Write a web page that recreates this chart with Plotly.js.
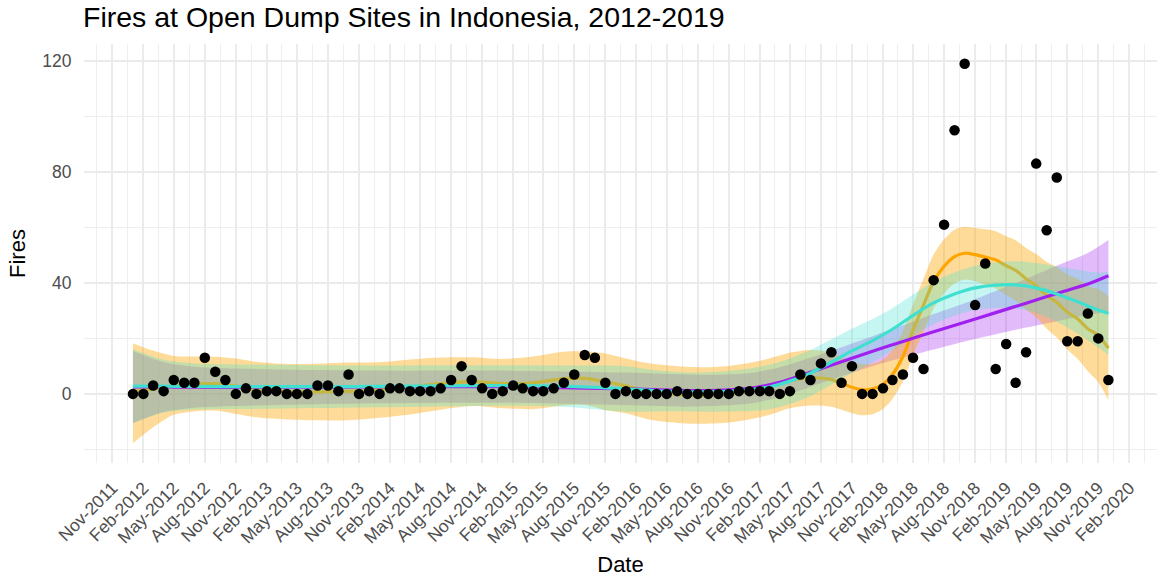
<!DOCTYPE html>
<html><head><meta charset="utf-8">
<script src="https://cdn.plot.ly/plotly-3.0.1.min.js"></script>
<style>html,body{margin:0;padding:0;background:#fff}#chart{width:1159px;height:579px}</style>
</head><body><div id="chart"></div>
<script>
// ---- data ----
const years = [2012, 2013, 2014, 2015, 2016, 2017, 2018, 2019];
const fires2012 = [0, 0, 3, 1, 5, 4, 4, 13, 8, 5, 0, 2];
const fires2013 = [0, 1, 1, 0, 0, 0, 3, 3, 1, 7, 0, 1];
const fires2014 = [0, 2, 2, 1, 1, 1, 2, 5, 10, 5, 2, 0];
const fires2015 = [1, 3, 2, 1, 1, 2, 4, 7, 14, 13, 4, 0];
const fires2016 = [1, 0, 0, 0, 0, 1, 0, 0, 0, 0, 0, 1];
const fires2017 = [1, 1, 1, 0, 1, 7, 5, 11, 15, 4, 10, 0];
const fires2018 = [0, 2, 5, 7, 13, 9, 41, 61, 95, 119, 32, 47];
const fires2019 = [9, 18, 4, 15, 83, 59, 78, 19, 19, 29, 20, 5];
const firesByYear = [fires2012, fires2013, fires2014, fires2015, fires2016, fires2017, fires2018, fires2019];

// smoother 1 (orange, local fit)
const orangeDates = ["2012-01","2012-03","2012-05","2012-07","2012-09","2012-11","2013-01","2013-04","2013-07","2013-10",
  "2014-01","2014-04","2014-07","2014-10","2015-01","2015-04","2015-07","2015-09","2015-11","2016-01","2016-03","2016-05",
  "2016-08","2016-11","2017-01","2017-03","2017-05","2017-07","2017-09","2017-10","2017-11","2017-12","2018-01","2018-02",
  "2018-03","2018-04","2018-05","2018-06","2018-07","2018-08","2018-09","2018-10","2018-11","2018-12","2019-01","2019-02",
  "2019-03","2019-04","2019-05","2019-06","2019-07","2019-08","2019-09","2019-10","2019-11","2019-12"];
const orangeFit = [0.8,1.8,3.0,3.6,3.7,2.8,1.5,0.8,0.7,0.9,1.4,2.5,3.7,4.4,3.7,4.0,5.5,5.6,4.4,2.9,1.0,0.1,
  -0.6,-0.1,1.0,2.6,4.8,5.8,5.2,3.8,2.4,1.5,1.8,3.5,7.0,13.5,23,32,40.5,46,49.5,50.7,50.2,49.3,48.3,46.2,
  44.5,41.5,39,35.5,33,29.5,27,23.5,21,16.5];
const orangeLow = [-17.8,-12,-7.5,-6.3,-6,-7.2,-8.4,-9.2,-9.5,-9.5,-8.6,-7.4,-5.7,-4.4,-5.2,-5.5,-4.2,-4.0,-5.8,-7,-9,-10.1,
  -10.8,-10.3,-9.2,-7.6,-5.2,-4.2,-4.6,-5.7,-7.0,-7.7,-7.3,-5.4,-1.8,4.5,13.8,22.5,30.8,36.3,39.8,41.2,40.6,39.3,38,35.6,
  33.6,30.4,27.6,23.5,20.3,16,12.6,8.2,4.2,-2.2];
const orangeHigh = [18.3,15.6,13.7,13.5,13.4,12.8,11.6,10.8,10.9,11.3,11.4,12.4,13.1,13.2,12.6,13.5,15.2,15.3,14.6,12.8,11.2,10.3,
  9.6,10.1,11.2,12.8,14.8,15.8,15.0,13.3,11.8,10.7,10.9,12.4,15.8,22.5,32.2,41.5,50.2,55.7,59.2,60.2,59.8,59.3,58.6,56.8,
  55.4,52.6,50.4,47.5,45.7,43,41.4,38.8,37.8,35.2];

// smoother 2 (turquoise)
const cyanDates = ["2012-01","2012-04","2012-07","2013-01","2013-07","2014-01","2014-07","2015-01","2015-07","2016-01","2016-04",
  "2016-07","2016-10","2017-01","2017-03","2017-05","2017-07","2017-09","2017-11","2018-01","2018-03","2018-05","2018-07",
  "2018-09","2018-11","2019-01","2019-03","2019-05","2019-07","2019-09","2019-11","2019-12"];
const cyanFit = [2.8,2.8,2.7,2.6,2.6,2.7,2.9,3.0,2.8,1.8,1.1,0.7,0.8,1.5,2.5,4.6,7.5,11.5,15.5,19.2,23.3,28.3,32.8,36.0,38.2,
  39.2,39.3,38.2,36.0,33.2,30.2,29.0];
const cyanLow = [-10.5,-6.7,-5.6,-5.4,-5.1,-4.8,-4.5,-4.3,-4.6,-6.4,-6.3,-6.3,-6.4,-6.2,-5.5,-3.6,-0.8,3.3,7.5,11.4,15.7,20.8,
  25.2,28.2,30.2,31.0,30.8,29.2,26.0,21.7,16.7,14.0];
const cyanHigh = [16.1,12.3,11.0,10.6,10.3,10.2,10.3,10.3,10.2,10.0,8.5,7.7,8.0,9.2,10.5,12.8,15.8,19.7,23.5,27.0,30.9,35.8,
  40.4,43.8,46.2,47.4,47.8,47.2,46.0,44.7,43.7,44.0];

// smoother 3 (purple)
const purpleDates = ["2012-01","2012-04","2012-07","2013-01","2014-01","2015-01","2016-01","2016-07","2016-10","2017-01",
  "2017-04","2017-07","2017-10","2018-01","2018-04","2018-07","2018-10","2019-01","2019-04","2019-07","2019-10","2019-12"];
const purpleFit = [2.5,2.5,2.4,2.4,2.5,2.6,1.8,1.2,1.3,2.0,4.2,7.8,11.6,15.4,18.9,22.4,25.8,29.3,32.7,36.2,39.6,42.6];
const purpleLow = [-10.5,-6.5,-5.0,-4.2,-3.4,-3.2,-4.1,-4.6,-4.3,-3.5,-1.2,2.6,6.4,10.0,13.1,16.0,18.9,21.5,23.9,26.2,28.4,29.6];
const purpleHigh = [15.5,11.5,9.8,9.0,8.4,8.4,7.7,7.0,6.9,7.5,9.6,13.0,16.8,20.8,24.7,28.8,32.7,37.1,41.5,46.2,50.8,55.5];

const titleText = "Fires at Open Dump Sites in Indonesia, 2012-2019";
const xTitle = "Date";
const yTitle = "Fires";

// ---- build table ----
const dates = [], fires = [];
years.forEach((y, i) => {
  firesByYear[i].forEach((v, m) => {
    dates.push(y + "-" + String(m + 1).padStart(2, "0") + "-01");
    fires.push(v);
  });
});

function band(x, lo, hi, fillcolor) {
  return [
    {x: x, y: lo, type: "scatter", mode: "lines", line: {width: 0, shape: "spline", smoothing: 0.8}, hoverinfo: "skip", showlegend: false},
    {x: x, y: hi, type: "scatter", mode: "lines", line: {width: 0, shape: "spline", smoothing: 0.8}, fill: "tonexty", fillcolor: fillcolor, hoverinfo: "skip", showlegend: false}
  ];
}
function fitLine(x, y, color) {
  return {x: x, y: y, type: "scatter", mode: "lines", line: {color: color, width: 3.2, shape: "spline", smoothing: 0.8}, showlegend: false};
}

const traces = [].concat(
  band(purpleDates, purpleLow, purpleHigh, "rgba(160,32,240,0.3)"),
  band(orangeDates, orangeLow, orangeHigh, "rgba(255,165,0,0.4)"),
  [fitLine(orangeDates, orangeFit, "#FFA500")],
  band(cyanDates, cyanLow, cyanHigh, "rgba(64,224,208,0.3)"),
  [fitLine(purpleDates, purpleFit, "#A020F0")],
  [fitLine(cyanDates, cyanFit, "#40E0D0")],
  [{x: dates, y: fires, type: "scatter", mode: "markers", marker: {color: "#000", size: 10.5}, showlegend: false}]
);

// minor grid halfway between the 3-month ticks
const minorVals = [];
for (let k = 0; k < 40; k++) {
  const a = new Date(Date.UTC(2011, 7 + 3 * k, 1));
  const b = new Date(Date.UTC(2011, 10 + 3 * k, 1));
  minorVals.push(new Date((a.getTime() + b.getTime()) / 2).toISOString().slice(0, 10));
}

const font = "Liberation Sans, Arial, sans-serif";
const layout = {
  width: 1159, height: 579,
  margin: {l: 84, r: 2, t: 44, b: 116},
  paper_bgcolor: "#fff", plot_bgcolor: "#fff",
  font: {family: font, color: "#000"},
  title: {text: titleText, font: {size: 28.5, family: font, color: "#000"}, x: 83 / 1159, xanchor: "left", xref: "container", y: 1 - 17 / 579, yanchor: "middle", yref: "container"},
  xaxis: {
    type: "date", range: ["2011-08-09", "2020-04-23"],
    tickmode: "linear", tick0: "2011-11-01", dtick: "M3", tickformat: "%b-%Y", tickangle: -45,
    tickfont: {size: 17.5, color: "#4D4D4D", family: font},
    ticks: "outside", ticklen: 7, tickcolor: "rgba(0,0,0,0)",
    showgrid: true, gridcolor: "#EBEBEB", gridwidth: 1.8, zeroline: false, showline: false,
    minor: {tickmode: "array", tickvals: minorVals, showgrid: true, gridcolor: "#EEEEEE", gridwidth: 1, ticks: ""},
    title: {text: xTitle, font: {size: 22, color: "#000", family: font}, standoff: 10},
    automargin: false
  },
  yaxis: {
    range: [-24.9, 126.1], tickmode: "linear", tick0: 0, dtick: 40,
    tickfont: {size: 17.5, color: "#4D4D4D", family: font},
    ticks: "outside", ticklen: 8, tickcolor: "rgba(0,0,0,0)",
    showgrid: true, gridcolor: "#EBEBEB", gridwidth: 1.8, zeroline: false, showline: false,
    minor: {tickmode: "linear", tick0: 0, dtick: 20, showgrid: true, gridcolor: "#EEEEEE", gridwidth: 1, ticks: ""},
    title: {text: yTitle, font: {size: 22, color: "#000", family: font}, standoff: 10},
    automargin: false
  },
  hovermode: false,
  showlegend: false
};
Plotly.newPlot("chart", traces, layout, {staticPlot: true, displayModeBar: false});
</script>
</body></html>
